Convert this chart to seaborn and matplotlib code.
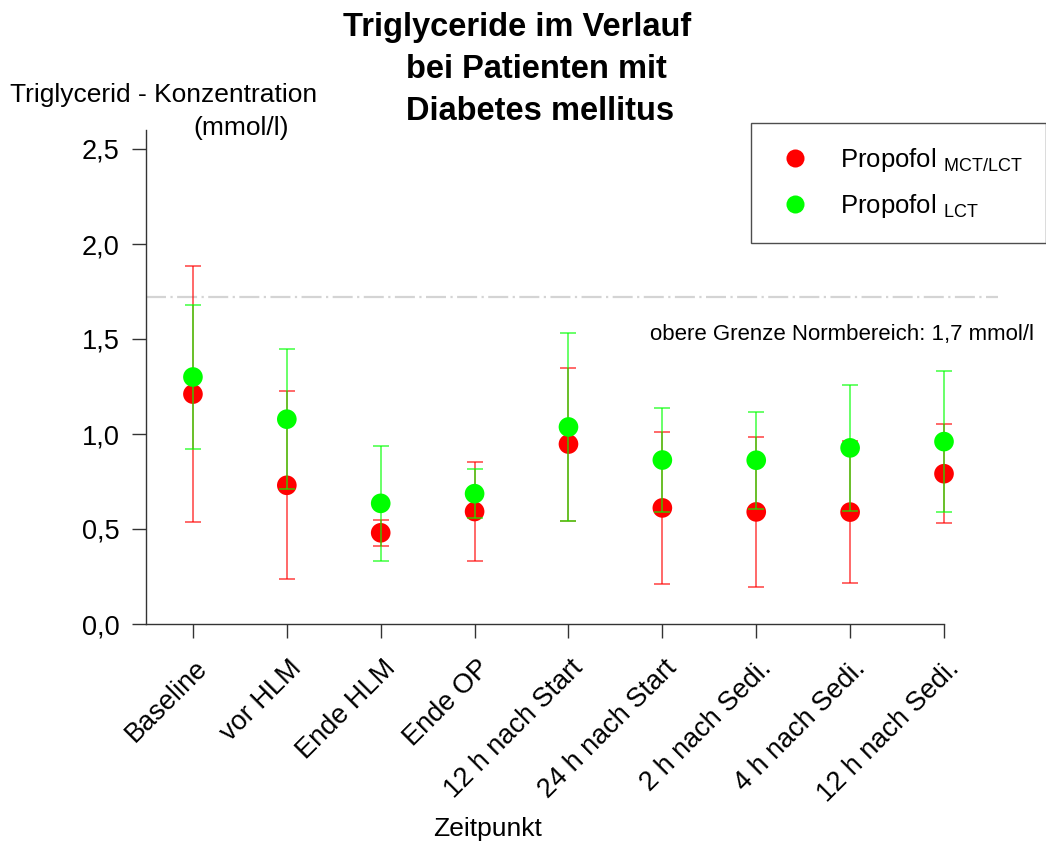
import numpy as np
import pandas as pd
import matplotlib
matplotlib.use("Agg")
import matplotlib.pyplot as plt
from matplotlib.lines import Line2D
from matplotlib.transforms import ScaledTranslation
import seaborn as sns

# Werte (Mittelwert +/- SD, mmol/l)
zeitpunkte = ["Baseline", "vor HLM", "Ende HLM", "Ende OP", "12 h nach Start",
              "24 h nach Start", "2 h nach Sedi.", "4 h nach Sedi.", "12 h nach Sedi."]
mct_mean = [1.21, 0.73, 0.48, 0.592, 0.947, 0.611, 0.59, 0.589, 0.791]
mct_sd = [0.675, 0.495, 0.068, 0.262, 0.403, 0.401, 0.395, 0.372, 0.262]
lct_mean = [1.30, 1.078, 0.635, 0.686, 1.037, 0.863, 0.862, 0.927, 0.96]
lct_sd = [0.378, 0.368, 0.303, 0.128, 0.493, 0.274, 0.256, 0.331, 0.373]
grenzwert = 1.72
yticks = [0.0, 0.5, 1.0, 1.5, 2.0, 2.5]

ROT = "#ff0000"
GRUEN = "#00ff00"

df = pd.concat([
    pd.DataFrame({"Zeitpunkt": zeitpunkte, "Wert": mct_mean, "SD": mct_sd, "Gruppe": "MCT/LCT"}),
    pd.DataFrame({"Zeitpunkt": zeitpunkte, "Wert": lct_mean, "SD": lct_sd, "Gruppe": "LCT"}),
])

sns.set_style("ticks")
plt.rcParams["font.family"] = ["Liberation Sans", "DejaVu Sans"]
plt.rcParams["mathtext.fontset"] = "custom"
plt.rcParams["mathtext.rm"] = "Liberation Sans"
plt.rcParams["text.color"] = "black"

W, H = 1046, 843
fig = plt.figure(figsize=(W / 100, H / 100), dpi=100)
ax = fig.add_axes([146 / W, 1 - 624 / H, (944 - 146) / W, (624 - 130) / H])

# Grenzwertlinie (reicht über die Achse hinaus)
ax.plot([-0.5, 8.57], [grenzwert, grenzwert], color="#d4d4d4", lw=1.6,
        linestyle=(0, (9, 2, 1, 2)), clip_on=False, zorder=1)

z = 2
for gruppe, farbe in [("MCT/LCT", ROT), ("LCT", GRUEN)]:
    sub = df[df["Gruppe"] == gruppe]
    eb = ax.errorbar(sub["Zeitpunkt"], sub["Wert"], yerr=sub["SD"], fmt="none",
                     ecolor=farbe, elinewidth=1.1, capsize=5.5, capthick=1.1,
                     alpha=0.75, zorder=z)
    for art in eb.lines[1] + eb.lines[2]:
        art.set_clip_on(False)
    sns.scatterplot(data=sub, x="Zeitpunkt", y="Wert", color=farbe, s=200,
                    edgecolor="none", linewidth=0, legend=False, ax=ax,
                    zorder=z + 1, clip_on=False)
    z += 2

ax.set_xlim(-0.5, 8.0)
ax.set_ylim(0, 2.6)
ax.set_yticks(yticks)
ax.set_yticklabels([f"{v:.1f}".replace(".", ",") for v in yticks])
ax.set_xticks(range(len(zeitpunkte)))
ax.set_xticklabels(zeitpunkte, rotation=45, ha="right", va="center",
                   rotation_mode="anchor")
ax.tick_params(axis="both", labelsize=19.5, length=10, width=1, color="#333333",
               labelcolor="black", direction="out")
ax.tick_params(axis="x", pad=22)
ax.tick_params(axis="y", pad=9)
versatz = ScaledTranslation(11 / 100, 4 / 100, fig.dpi_scale_trans)
for lab in ax.get_xticklabels():
    lab.set_transform(lab.get_transform() + versatz)
ax.set_xlabel("")
ax.set_ylabel("")
sns.despine(ax=ax)
for s in ["left", "bottom"]:
    ax.spines[s].set_color("#333333")
    ax.spines[s].set_linewidth(1)

fig.text(650 / W, 1 - 340 / H, "obere Grenze Normbereich: 1,7 mmol/l",
         fontsize=16, ha="left", va="baseline")

# Titel
fig.text(343 / W, 1 - 36 / H, "Triglyceride im Verlauf", fontsize=23.5,
         fontweight="bold", ha="left", va="baseline")
fig.text(406 / W, 1 - 78 / H, "bei Patienten mit", fontsize=23.5,
         fontweight="bold", ha="left", va="baseline")
fig.text(406 / W, 1 - 120 / H, "Diabetes mellitus", fontsize=23.5,
         fontweight="bold", ha="left", va="baseline")

# Achsenbeschriftungen
fig.text(10 / W, 1 - 102 / H, "Triglycerid - Konzentration", fontsize=19,
         ha="left", va="baseline")
fig.text(193 / W, 1 - 135 / H, "(mmol/l)", fontsize=19, ha="left", va="baseline")
fig.text(488 / W, 1 - 836 / H, "Zeitpunkt", fontsize=19, ha="center", va="baseline")

handles = [
    Line2D([], [], ls="none", marker="o", ms=13, mfc=ROT, mec="none"),
    Line2D([], [], ls="none", marker="o", ms=13, mfc=GRUEN, mec="none"),
]
labels = ["Propofol $_{\\mathregular{MCT/LCT}}$", "Propofol $_{\\mathregular{LCT}}$"]
leg = fig.legend(handles, labels, loc="upper left", bbox_to_anchor=(751 / W, 1 - 123 / H),
                 borderaxespad=0, fontsize=18.5, frameon=True, fancybox=False,
                 borderpad=0.9, handlelength=1.6, handletextpad=0.95,
                 labelspacing=0.7)
leg.get_frame().set_edgecolor("#222222")
leg.get_frame().set_linewidth(1)

fig.savefig("out.png", dpi=100)
